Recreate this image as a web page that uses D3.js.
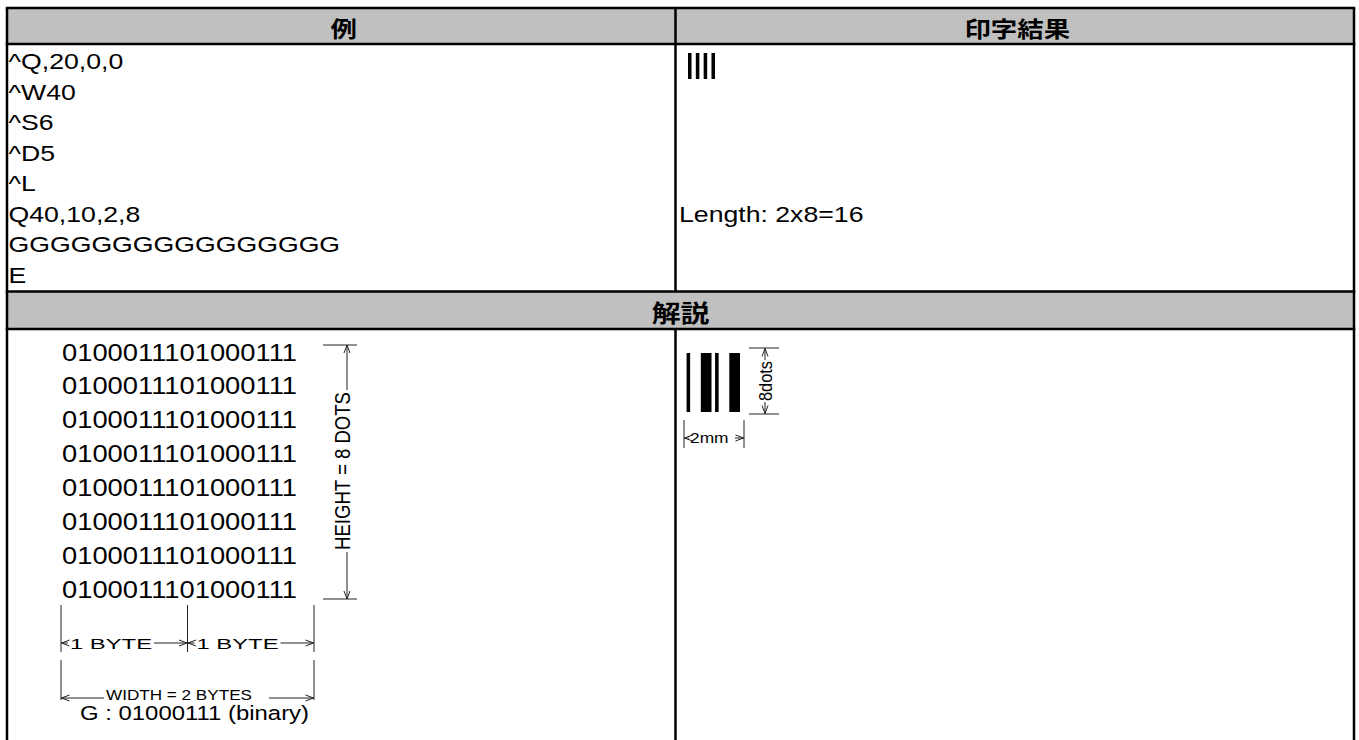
<!DOCTYPE html>
<html><head><meta charset="utf-8">
<script src="https://cdn.jsdelivr.net/npm/d3@7"></script>
<style>body{margin:0;background:#fff;overflow:hidden}</style>
</head><body><svg id="c" width="1359" height="740"></svg>
<script>
// ---------- data ----------
const columnHeaders = ["例", "印字結果"];
const sectionHeaders = ["解説"];
const exampleLines = ["^Q,20,0,0", "^W40", "^S6", "^D5", "^L", "Q40,10,2,8", "GGGGGGGGGGGGGGGG", "E"];
const resultLines = ["", "", "", "", "", "Length: 2x8=16", "", ""];
const bitRows = [
  "0100011101000111",
  "0100011101000111",
  "0100011101000111",
  "0100011101000111",
  "0100011101000111",
  "0100011101000111",
  "0100011101000111",
  "0100011101000111"
];
const byteLabels = ["1 BYTE", "1 BYTE"];
const widthLabel = "WIDTH = 2 BYTES";
const heightLabel = "HEIGHT = 8 DOTS";
const binaryNote = "G : 01000111 (binary)";
const dotsLabel = "8dots";
const mmLabel = "2mm";

// ---------- setup ----------
const svg = d3.select("#c");
const SX = 1.24;
const LAT = "'Liberation Sans', Arial, sans-serif";
const CJK = "'Noto Sans CJK JP', 'Noto Sans CJK SC', sans-serif";

const L = 7, R = 1354, MID = 675.5;
const H1T = 8, H1B = 44, R1B = 291.5, H2B = 329, BOT = 741;

function text(sel, s, x, y, o = {}) {
  const t = sel.append("text")
    .attr("transform", `translate(${x},${y}) scale(${o.sx ?? SX},1)` + (o.rot ? ` rotate(${o.rot})` : ""))
    .attr("font-family", o.font || LAT)
    .attr("font-size", o.size || 22)
    .attr("font-weight", o.weight || "normal")
    .attr("text-anchor", o.anchor || "start")
    .attr("fill", o.fill || "#000")
    .text(s);
  if (o.db) t.attr("dominant-baseline", o.db);
  if (o.len) t.attr("textLength", o.len).attr("lengthAdjust", "spacingAndGlyphs");
  return t;
}
function arrow(sel, tx, ty, dir) { // open V arrowhead
  const a = 8, b = 3;
  let p;
  if (dir === "l") p = `M${tx + a},${ty - b}L${tx},${ty}L${tx + a},${ty + b}`;
  if (dir === "r") p = `M${tx - a},${ty - b}L${tx},${ty}L${tx - a},${ty + b}`;
  if (dir === "u") p = `M${tx - b},${ty + a}L${tx},${ty}L${tx + b},${ty + a}`;
  if (dir === "d") p = `M${tx - b},${ty - a}L${tx},${ty}L${tx + b},${ty - a}`;
  sel.append("path").attr("d", p).attr("fill", "none").attr("stroke", "#222").attr("stroke-width", 1);
}
function line(sel, x1, y1, x2, y2, w = 1, c = "#222") {
  sel.append("line").attr("x1", x1).attr("y1", y1).attr("x2", x2).attr("y2", y2)
    .attr("stroke", c).attr("stroke-width", w);
}

// ---------- table backgrounds ----------
const grid = svg.append("g");
grid.append("rect").attr("x", L).attr("y", H1T).attr("width", R - L).attr("height", H1B - H1T).attr("fill", "#c0c0c0");
grid.append("rect").attr("x", L).attr("y", R1B).attr("width", R - L).attr("height", H2B - R1B).attr("fill", "#c0c0c0");

const colX = d3.scaleBand().domain(columnHeaders).range([L, R]);
columnHeaders.forEach(h => text(grid, h, colX(h) + colX.bandwidth() / 2, (H1T + H1B) / 2 + 1,
  { font: CJK, size: 22, weight: "bold", anchor: "middle", db: "central", sx: 1.2 }));
sectionHeaders.forEach(h => text(grid, h, (L + R) / 2, (R1B + H2B) / 2 + 1,
  { font: CJK, size: 24, weight: "bold", anchor: "middle", db: "central", sx: 1.2 }));

const TW = 2.5;
[H1T, H1B, R1B, H2B].forEach(y => line(grid, L - 1.25, y, R + 1.25, y, TW, "#000"));
line(grid, L, H1T, L, BOT, TW, "#000");
line(grid, R, H1T, R, BOT, TW, "#000");
line(grid, MID, H1T, MID, R1B, TW, "#000");
line(grid, MID, H2B, MID, BOT, TW, "#000");

// ---------- example rows ----------
const rowY = d3.scaleLinear().domain([0, exampleLines.length - 1]).range([69, 283]);
exampleLines.forEach((s, i) => text(svg, s, 8.5, rowY(i), { size: 21.5 }));
resultLines.forEach((s, i) => { if (s) text(svg, s, 679, rowY(i), { size: 21.5 }); });

function runs(bits) {
  const out = []; let st = -1;
  for (let i = 0; i <= bits.length; i++) {
    const on = bits[i] === "1";
    if (on && st < 0) st = i;
    if (!on && st >= 0) { out.push([st, i]); st = -1; }
  }
  return out;
}
const barRuns = runs(bitRows[0]);

// small printed result (top)
const smallX = d3.scaleBand().domain(d3.range(barRuns.length)).range([688, 715]).paddingInner(0.55);
const smallY = d3.scaleLinear().domain([0, bitRows.length]).range([53, 79]);
svg.append("g").selectAll("rect").data(barRuns).join("rect")
  .attr("x", (d, i) => smallX(i))
  .attr("width", smallX.bandwidth())
  .attr("y", smallY(0)).attr("height", smallY(bitRows.length) - smallY(0))
  .attr("fill", "#000");

// ---------- explanation: bit matrix ----------
const bitY = d3.scaleLinear().domain([0, bitRows.length - 1]).range([360.5, 598]);
const ex = svg.append("g");
bitRows.forEach((s, i) => ex.append("text")
  .attr("x", 62).attr("y", bitY(i))
  .attr("font-family", LAT).attr("font-size", 23.5)
  .attr("textLength", 235).attr("lengthAdjust", "spacingAndGlyphs")
  .text(s));

const hx = 347, hTop = 345, hBot = 599;
line(ex, 323, hTop, 357, hTop);
line(ex, 323, hBot, 357, hBot);
line(ex, hx, hTop, hx, 390);
line(ex, hx, 552, hx, hBot);
arrow(ex, hx, hTop, "u");
arrow(ex, hx, hBot, "d");
text(ex, heightLabel, 342.5, (hTop + hBot) / 2 - 1, { size: 17.5, anchor: "middle", db: "central", rot: -90, len: 158 });

const byteX = d3.scaleLinear().domain([0, byteLabels.length]).range([61, 314]);
d3.range(byteLabels.length + 1).forEach(i => line(ex, byteX(i), 605, byteX(i), 652));
[0, byteLabels.length].forEach(i => line(ex, byteX(i), 660, byteX(i), 700));
byteLabels.forEach((s, i) => {
  const x0 = byteX(i), x1 = byteX(i + 1), y = 643;
  line(ex, x0, y, x0 + 7, y); arrow(ex, x0 + 0.5, y, "l");
  ex.append("text").attr("x", x0 + 9).attr("y", 648.5)
    .attr("font-family", LAT).attr("font-size", 15)
    .attr("textLength", 82).attr("lengthAdjust", "spacingAndGlyphs").text(s);
  line(ex, x0 + 93, y, x1, y); arrow(ex, x1 - 0.5, y, "r");
});
line(ex, byteX(0), 698, 104, 698); arrow(ex, byteX(0) + 0.5, 698, "l");
ex.append("text").attr("x", 106).attr("y", 700)
  .attr("font-family", LAT).attr("font-size", 15)
  .attr("textLength", 146).attr("lengthAdjust", "spacingAndGlyphs").text(widthLabel);
line(ex, 269, 698, byteX(byteLabels.length), 698); arrow(ex, byteX(byteLabels.length) - 0.5, 698, "r");

text(ex, binaryNote, 80, 720, { size: 19.3 });

// ---------- explanation: printed bars ----------
const barX = d3.scaleLinear().domain([0, bitRows[0].length]).range([683, 740]);
const barY = d3.scaleLinear().domain([0, bitRows.length]).range([353, 412]);
const pb = svg.append("g");
pb.selectAll("rect").data(barRuns).join("rect")
  .attr("x", d => barX(d[0])).attr("width", d => barX(d[1]) - barX(d[0]))
  .attr("y", barY(0)).attr("height", barY(bitRows.length) - barY(0))
  .attr("fill", "#000");

const dx = 765, dTop = 348, dBot = 414;
line(pb, 749, dTop, 779, dTop);
line(pb, 749, dBot, 779, dBot);
line(pb, dx, dTop, dx, 360);
line(pb, dx, 402, dx, dBot);
arrow(pb, dx, dTop + 0.5, "u");
arrow(pb, dx, dBot - 0.5, "d");
text(pb, dotsLabel, 765, (dTop + dBot) / 2, { size: 14.5, anchor: "middle", db: "central", rot: -90, len: 40 });

line(pb, 684, 420, 684, 448);
line(pb, 744, 420, 744, 448);
line(pb, 684, 438, 689, 438); arrow(pb, 684.5, 438, "l");
text(pb, mmLabel, 690, 443, { size: 14 });
line(pb, 735, 438, 744, 438); arrow(pb, 743.5, 438, "r");
</script>
</body></html>
